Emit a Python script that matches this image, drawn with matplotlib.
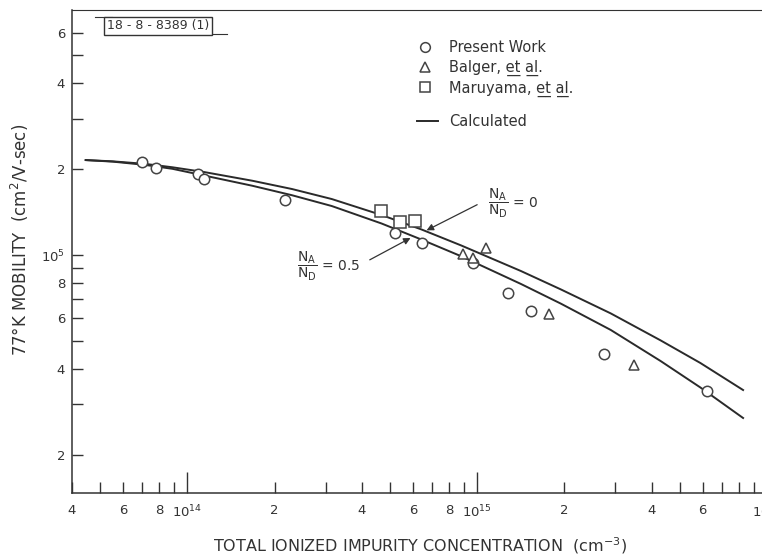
import matplotlib.pyplot as plt
from matplotlib.ticker import NullFormatter
from matplotlib.lines import Line2D

plt.rcParams['font.family'] = ['DejaVu Sans']
plt.rcParams['mathtext.default'] = 'regular'

# 77 K Hall mobility vs total ionized impurity concentration
present_conc = [7.0e13, 7.8e13, 1.09e14, 1.14e14, 2.17e14, 5.19e14, 6.47e14,
                9.68e14, 1.28e15, 1.53e15, 2.73e15, 6.22e15]
present_mob = [2.11e5, 2.01e5, 1.92e5, 1.85e5, 1.56e5, 1.19e5, 1.10e5,
               9.38e4, 7.36e4, 6.37e4, 4.51e4, 3.34e4]
balger_conc = [8.95e14, 9.68e14, 1.07e15, 1.77e15, 3.47e15]
balger_mob = [1.01e5, 9.76e4, 1.06e5, 6.22e4, 4.12e4]
maruyama_conc = [4.64e14, 5.43e14, 6.08e14]
maruyama_mob = [1.43e5, 1.30e5, 1.32e5]

# calculated curves, NA/ND = 0 and NA/ND = 0.5
calc_conc = [4.46e13, 5.53e13, 7.12e13, 8.88e13, 1.144e14, 1.673e14, 2.296e14,
             3.15e14, 4.68e14, 6.42e14, 8.81e14, 1.416e15, 1.944e15, 2.888e15,
             4.29e15, 5.89e15, 8.27e15]
calc_mob_0 = [2.149e5, 2.127e5, 2.085e5, 2.028e5, 1.951e5, 1.820e5, 1.702e5,
              1.570e5, 1.380e5, 1.229e5, 1.080e5, 8.79e4, 7.58e4, 6.25e4,
              5.03e4, 4.19e4, 3.37e4]
calc_mob_05 = [2.149e5, 2.122e5, 2.068e5, 2.003e5, 1.897e5, 1.748e5, 1.619e5,
               1.484e5, 1.289e5, 1.133e5, 9.90e4, 7.92e4, 6.76e4, 5.47e4,
               4.26e4, 3.44e4, 2.69e4]

x_major = [4e13, 6e13, 8e13, 1e14, 2e14, 4e14, 6e14, 8e14, 1e15, 2e15, 4e15, 6e15, 1e16]
x_labels = ['4', '6', '8', '$10^{14}$', '2', '4', '6', '8', '$10^{15}$', '2', '4', '6', '$10^{16}$']
x_minor = [5e13, 7e13, 9e13, 3e14, 5e14, 7e14, 9e14, 3e15, 5e15, 7e15, 8e15, 9e15]
y_major = [2e4, 4e4, 6e4, 8e4, 1e5, 2e5, 4e5, 6e5]
y_labels = ['2', '4', '6', '8', '$10^5$', '2', '4', '6']
y_minor = [3e4, 5e4, 7e4, 9e4, 3e5, 5e5]

ink = '#2a2a2a'
txt = '#333333'

fig = plt.figure(figsize=(7.62, 5.55), dpi=100)
ax = fig.add_axes([72 / 762, 62 / 555, 695 / 762, 483 / 555])
ax.set_xscale('log')
ax.set_yscale('log')

ax.plot(calc_conc, calc_mob_0, color=ink, lw=1.4)
ax.plot(calc_conc, calc_mob_05, color=ink, lw=1.4)
mk = dict(ls='none', mfc='white', mec='#444444', mew=1.1)
ax.plot(present_conc, present_mob, marker='o', ms=7.5, **mk)
ax.plot(balger_conc, balger_mob, marker='^', ms=7, **mk)
ax.plot(maruyama_conc, maruyama_mob, marker='s', ms=8, **mk)

ax.set_xlim(4e13, 1e16)
ax.set_ylim(1.47e4, 7.2e5)

ax.set_xticks(x_major, x_labels)
ax.set_xticks(x_minor, minor=True)
ax.set_yticks(y_major, y_labels)
ax.set_yticks(y_minor, minor=True)
ax.xaxis.set_minor_formatter(NullFormatter())
ax.yaxis.set_minor_formatter(NullFormatter())
ax.tick_params(which='both', direction='in', length=8, width=1, color=txt,
               labelsize=9.5, labelcolor=txt)
ax.tick_params(axis='x', pad=8)
ax.tick_params(axis='y', pad=5)
for t, v in zip(ax.xaxis.get_major_ticks(), x_major):
    if v in (1e14, 1e15):
        t.tick1line.set_markersize(15)
for s in ax.spines.values():
    s.set_color(txt)
    s.set_linewidth(1.1)
ax.spines['top'].set_linewidth(0.8)

# legend
h_marks = [Line2D([], [], marker='o', ms=7, **mk),
           Line2D([], [], marker='^', ms=7, **mk),
           Line2D([], [], marker='s', ms=7, **mk)]
leg1 = ax.legend(h_marks, ['Present Work', 'Balger, e\u0332t\u0332 a\u0332l\u0332.',
                           'Maruyama, e\u0332t\u0332 a\u0332l\u0332.'],
                 loc='upper left', bbox_to_anchor=(0.497, 0.937), frameon=False,
                 fontsize=10.5, labelspacing=0.3, handlelength=1.0,
                 handletextpad=1.2, borderpad=0, borderaxespad=0, labelcolor=txt)
ax.add_artist(leg1)
ax.legend([Line2D([], [], color=ink, lw=1.4)], ['Calculated'],
          loc='upper left', bbox_to_anchor=(0.497, 0.784), frameon=False,
          fontsize=10.5, handlelength=1.4, handletextpad=0.8,
          borderpad=0, borderaxespad=0, labelcolor=txt)

# curve labels
arrow = dict(arrowstyle='-|>', lw=0.9, color=txt, mutation_scale=10, shrinkA=0, shrinkB=0)
ax.annotate('', xy=(6.69e14, 1.22e5), xytext=(1.0e15, 1.50e5), arrowprops=arrow)
ax.text(1.09e15, 1.52e5, r'$\dfrac{N_A}{N_D}$ = 0', ha='left', va='center',
        fontsize=10, color=txt)
ax.annotate('', xy=(5.89e14, 1.147e5), xytext=(4.26e14, 9.62e4), arrowprops=arrow)
ax.text(3.95e14, 9.1e4, r'$\dfrac{N_A}{N_D}$ = 0.5', ha='right', va='center',
        fontsize=10, color=txt)

fig.text(420 / 762, 1 - 551 / 555, 'TOTAL IONIZED IMPURITY CONCENTRATION  (cm$^{-3}$)',
         ha='center', va='baseline', fontsize=11.5, color=txt)
fig.text(20 / 762, 1 - 240 / 555, '77\u00b0K MOBILITY  (cm$^2$/V-sec)',
         ha='center', va='center', rotation=90, fontsize=12, color=txt)

# drawing number stamp
fig.text(158 / 762, 1 - 26 / 555, '18 - 8 - 8389 (1)', ha='center', va='center',
         fontsize=9, color=txt, family=['Liberation Sans Narrow', 'DejaVu Sans'],
         bbox=dict(boxstyle='square,pad=0.2', fc='white', ec=txt, lw=1))
fig.add_artist(Line2D([95 / 762, 112 / 762], [1 - 17 / 555] * 2, color=txt, lw=0.8))
fig.add_artist(Line2D([205 / 762, 227 / 762], [1 - 34 / 555] * 2, color=txt, lw=0.8))

fig.savefig('out.png', dpi=100)
